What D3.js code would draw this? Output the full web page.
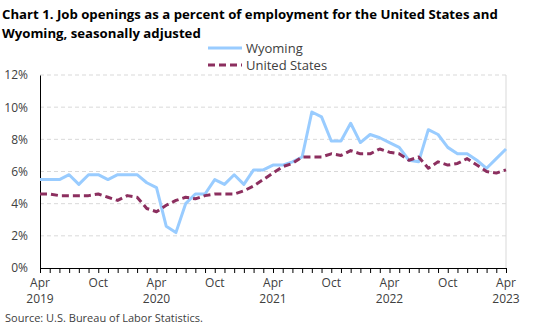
<!DOCTYPE html>
<html>
<head>
<meta charset="utf-8">
<script src="https://cdn.jsdelivr.net/npm/d3@7"></script>
<style>
  body { margin: 0; background: #fff; }
  svg { display: block; font-family: "Open Sans", "Liberation Sans", sans-serif; }
</style>
</head>
<body>
<svg id="chart" width="537" height="332"></svg>
<script>
// months Apr 2019 .. Apr 2023
const months = [
  "2019-04","2019-05","2019-06","2019-07","2019-08","2019-09","2019-10","2019-11","2019-12",
  "2020-01","2020-02","2020-03","2020-04","2020-05","2020-06","2020-07","2020-08","2020-09",
  "2020-10","2020-11","2020-12","2021-01","2021-02","2021-03","2021-04","2021-05","2021-06",
  "2021-07","2021-08","2021-09","2021-10","2021-11","2021-12","2022-01","2022-02","2022-03",
  "2022-04","2022-05","2022-06","2022-07","2022-08","2022-09","2022-10","2022-11","2022-12",
  "2023-01","2023-02","2023-03","2023-04"
];

const wyoming = [
  5.5, 5.5, 5.5, 5.8, 5.2, 5.8, 5.8, 5.5, 5.8, 5.8, 5.8, 5.3,
  5.0, 2.6, 2.2, 4.0, 4.6, 4.6, 5.5, 5.2, 5.8, 5.2, 6.1, 6.1,
  6.4, 6.4, 6.6, 6.9, 9.7, 9.4, 7.9, 7.9, 9.0, 7.8, 8.3, 8.1,
  7.8, 7.5, 6.7, 6.6, 8.6, 8.3, 7.5, 7.1, 7.1, 6.7, 6.2, 6.8,
  7.4
];

const unitedStates = [
  4.6, 4.6, 4.5, 4.5, 4.5, 4.5, 4.6, 4.4, 4.2, 4.5, 4.4, 3.7,
  3.5, 3.9, 4.2, 4.4, 4.3, 4.5, 4.6, 4.6, 4.6, 4.8, 5.1, 5.5,
  5.9, 6.3, 6.5, 6.9, 6.9, 6.9, 7.1, 7.0, 7.3, 7.1, 7.1, 7.4,
  7.2, 7.1, 6.7, 6.9, 6.2, 6.6, 6.4, 6.5, 6.8, 6.4, 6.0, 5.9,
  6.1
];

const yTicks = [0, 2, 4, 6, 8, 10, 12];
const xLabels = [
  ["2019-04", "Apr", "2019"], ["2019-10", "Oct", ""],
  ["2020-04", "Apr", "2020"], ["2020-10", "Oct", ""],
  ["2021-04", "Apr", "2021"], ["2021-10", "Oct", ""],
  ["2022-04", "Apr", "2022"], ["2022-10", "Oct", ""],
  ["2023-04", "Apr", "2023"]
];

const series = [
  { name: "Wyoming", values: wyoming, color: "#99ccff", dash: null },
  { name: "United States", values: unitedStates, color: "#8c2f5f", dash: "7,4" }
];

const svg = d3.select("#chart");
const margin = { top: 75, right: 31, bottom: 64, left: 40 };
const width = 537 - margin.left - margin.right;
const height = 332 - margin.top - margin.bottom;

// title
const title = svg.append("text")
  .attr("font-weight", "bold")
  .attr("font-size", 13.2)
  .attr("fill", "#000");
title.append("tspan").attr("x", 2).attr("y", 19)
  .text("Chart 1. Job openings as a percent of employment for the United States and");
title.append("tspan").attr("x", 2).attr("y", 38)
  .text("Wyoming, seasonally adjusted");

const x = d3.scalePoint().domain(months).range([0, width]);
const y = d3.scaleLinear().domain([0, 12]).range([height, 0]);

const g = svg.append("g").attr("transform", `translate(${margin.left},${margin.top})`);

// gridlines
g.selectAll(".grid")
  .data(yTicks.filter(d => d > 0))
  .join("line")
  .attr("x1", 0).attr("x2", width)
  .attr("y1", d => y(d)).attr("y2", d => y(d))
  .attr("stroke", "#d9d9d9")
  .attr("stroke-dasharray", "4,3");

// right border
g.append("line")
  .attr("x1", width).attr("x2", width)
  .attr("y1", 0).attr("y2", height)
  .attr("stroke", "#d9d9d9");

// y axis
const yAxis = g.append("g")
  .call(d3.axisLeft(y).tickValues(yTicks).tickFormat(d => d + "%").tickSize(0).tickPadding(12));
yAxis.select(".domain").attr("stroke", "#000");
yAxis.selectAll("text").attr("fill", "#404040").attr("font-size", 12).attr("font-family", "Open Sans, sans-serif");

// x axis
const xAxis = g.append("g")
  .attr("transform", `translate(0,${height})`)
  .call(d3.axisBottom(x).tickSizeInner(5).tickSizeOuter(0).tickFormat(""));
xAxis.select(".domain").attr("stroke", "#000");
xAxis.selectAll(".tick line").attr("stroke", "#000");

const xl = g.append("g")
  .selectAll("text")
  .data(xLabels)
  .join("text")
  .attr("text-anchor", "middle")
  .attr("fill", "#404040")
  .attr("font-size", 12);
xl.append("tspan").attr("x", d => x(d[0])).attr("y", height + 19).text(d => d[1]);
xl.append("tspan").attr("x", d => x(d[0])).attr("y", height + 35).text(d => d[2]);

// lines
const line = d3.line()
  .x((d, i) => x(months[i]))
  .y(d => y(d));

g.selectAll(".series")
  .data(series)
  .join("path")
  .attr("fill", "none")
  .attr("stroke", d => d.color)
  .attr("stroke-width", 3)
  .attr("stroke-dasharray", d => d.dash)
  .attr("stroke-linejoin", "round")
  .attr("d", d => line(d.values));

// legend
const legend = svg.append("g").attr("transform", "translate(208,48)");
const li = legend.selectAll("g")
  .data(series)
  .join("g")
  .attr("transform", (d, i) => `translate(0,${i * 17})`);
li.append("line")
  .attr("x1", 0).attr("x2", 34)
  .attr("stroke", d => d.color)
  .attr("stroke-width", 3)
  .attr("stroke-dasharray", d => d.dash);
li.append("text")
  .attr("x", 38).attr("y", 5)
  .attr("font-size", 13)
  .attr("fill", "#404040")
  .text(d => d.name);

// source
svg.append("text")
  .attr("x", 5).attr("y", 322)
  .attr("font-size", 11)
  .attr("fill", "#404040")
  .text("Source: U.S. Bureau of Labor Statistics.");
</script>
</body>
</html>
